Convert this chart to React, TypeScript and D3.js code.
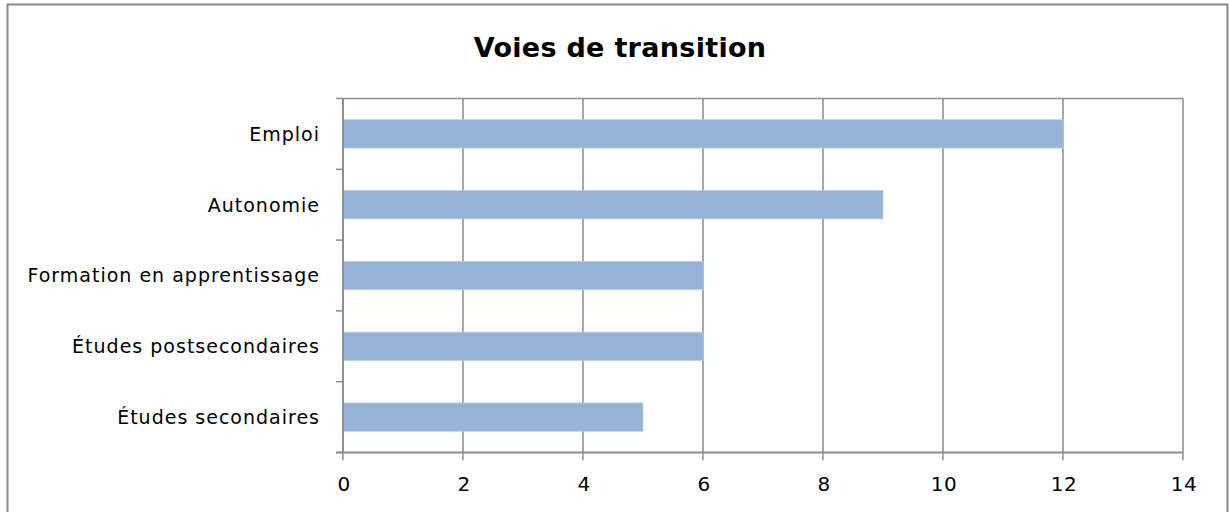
import React from "react";
import * as d3 from "d3";

const title = "Voies de transition";
const categories = [
  "Emploi",
  "Autonomie",
  "Formation en apprentissage",
  "Études postsecondaires",
  "Études secondaires",
];
const values = [12, 9, 6, 6, 5];
const xTicks = [0, 2, 4, 6, 8, 10, 12, 14];

const W = 1230;
const H = 512;
const plot = { left: 343, right: 1183, top: 98.5, bottom: 452.5 };
const FONT = "'DejaVu Sans', sans-serif";
const GRID = "#8e8e8e";

export default function App() {
  const x = d3.scaleLinear().domain([0, 14]).range([plot.left, plot.right]);
  const y = d3
    .scaleBand<string>()
    .domain(categories)
    .range([plot.top, plot.bottom])
    .paddingInner(0.6)
    .paddingOuter(0.3);
  const band = (plot.bottom - plot.top) / categories.length;
  const edges = d3.range(categories.length + 1).map((i) => plot.top + i * band);

  return (
    <svg
      width={W}
      height={H}
      style={{ position: "fixed", left: 0, top: 0, background: "#fff" }}
    >
      <rect x={0} y={0} width={W} height={H} fill="#fff" />
      <rect
        x={7.5}
        y={4.5}
        width={1220}
        height={540}
        fill="none"
        stroke="#8b8585"
        strokeWidth={2}
      />
      <text
        x={620}
        y={57}
        textAnchor="middle"
        fontFamily={FONT}
        fontWeight="bold"
        fontSize={27}
        letterSpacing={0.3}
        fill="#000"
      >
        {title}
      </text>

      {/* vertical gridlines */}
      {xTicks.map((t) => (
        <line
          key={"g" + t}
          x1={x(t)}
          x2={x(t)}
          y1={plot.top}
          y2={plot.bottom + 8}
          stroke={GRID}
          strokeWidth={1.5}
        />
      ))}
      {/* top border of plot */}
      <line
        x1={plot.left}
        x2={plot.right}
        y1={plot.top}
        y2={plot.top}
        stroke={GRID}
        strokeWidth={1.5}
      />

      {/* bars */}
      {categories.map((c, i) => (
        <rect
          key={c}
          x={x(0)}
          y={y(c)!}
          width={x(values[i]) - x(0)}
          height={y.bandwidth()}
          fill="#95b3d7"
          stroke="#b8cce4"
          strokeWidth={0.8}
        />
      ))}

      {/* axes */}
      <line
        x1={plot.left}
        x2={plot.left}
        y1={plot.top}
        y2={plot.bottom}
        stroke={GRID}
        strokeWidth={2}
      />
      <line
        x1={plot.left - 7}
        x2={plot.right}
        y1={plot.bottom}
        y2={plot.bottom}
        stroke={GRID}
        strokeWidth={2}
      />
      {edges.map((e, i) => (
        <line
          key={"t" + i}
          x1={plot.left - 7}
          x2={plot.left}
          y1={e}
          y2={e}
          stroke={GRID}
          strokeWidth={1.5}
        />
      ))}

      {/* category labels */}
      {categories.map((c) => (
        <text
          key={"l" + c}
          x={320}
          y={y(c)! + y.bandwidth() / 2}
          dy="0.36em"
          textAnchor="end"
          fontFamily={FONT}
          fontSize={19}
          letterSpacing={1.0}
          fill="#000"
        >
          {c}
        </text>
      ))}

      {/* x tick labels */}
      {xTicks.map((t) => (
        <text
          key={"x" + t}
          x={x(t) + 1}
          y={491}
          textAnchor="middle"
          fontFamily={FONT}
          fontSize={20}
          letterSpacing={0.5}
          fill="#000"
        >
          {t}
        </text>
      ))}
    </svg>
  );
}
